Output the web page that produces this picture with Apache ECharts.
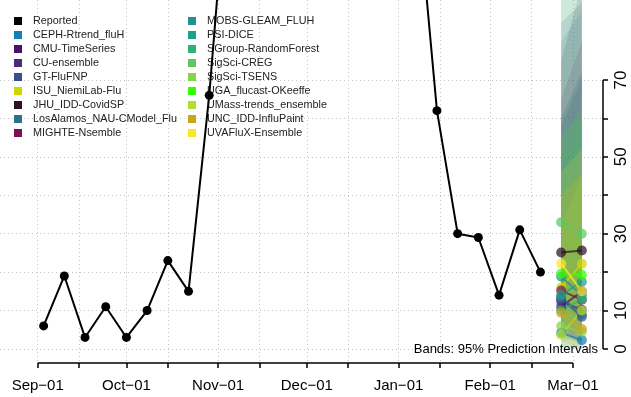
<!DOCTYPE html>
<html>
<head>
<meta charset="utf-8">
<script src="https://cdn.jsdelivr.net/npm/echarts@6/dist/echarts.min.js"></script>
<style>
  html, body { margin: 0; padding: 0; background: #fff; }
  #chart { width: 631px; height: 397px; }
</style>
</head>
<body>
<div id="chart"></div>
<script>
// weekly reported counts
const reportedDates = ['2022-09-03', '2022-09-10', '2022-09-17', '2022-09-24', '2022-10-01', '2022-10-08',
  '2022-10-15', '2022-10-22', '2022-10-29', '2022-11-05', '2022-11-12', '2022-11-19', '2022-11-26',
  '2022-12-03', '2022-12-10', '2022-12-17', '2022-12-24', '2022-12-31', '2023-01-07', '2023-01-14',
  '2023-01-21', '2023-01-28', '2023-02-04', '2023-02-11', '2023-02-18'];
const reportedValues = [6, 19, 3, 11, 3, 10, 23, 15, 66, 132, 175, 210, 238, 226, 201, 184, 166, 148, 121, 62,
  30, 29, 14, 31, 20];

// forecasts, two horizons
const forecastDates = ['2023-02-25', '2023-03-04'];
const models = ['CEPH-Rtrend_fluH', 'CMU-TimeSeries', 'CU-ensemble', 'GT-FluFNP', 'ISU_NiemiLab-Flu',
  'JHU_IDD-CovidSP', 'LosAlamos_NAU-CModel_Flu', 'MIGHTE-Nsemble', 'MOBS-GLEAM_FLUH', 'PSI-DICE',
  'SGroup-RandomForest', 'SigSci-CREG', 'SigSci-TSENS', 'UGA_flucast-OKeeffe', 'UMass-trends_ensemble',
  'UNC_IDD-InfluPaint', 'UVAFluX-Ensemble'];
const modelColors = ['#1380B8', '#4B1068', '#482A7A', '#3E4C8A', '#D0D600', '#2D1225', '#2C6F8E', '#7A1057',
  '#21918C', '#1FA187', '#2EB37C', '#5DC863', '#86D549', '#33FF00', '#B4DE2C', '#C9A61F', '#FDE725'];
const medianValues = [[4.2, 2.3], [11, 15], [12.4, 10.2], [13, 8.4], [16, 22.2], [25.1, 25.6], [13.5, 9],
  [15.2, 12.8], [18.8, 14], [14, 17.5], [10, 13], [33, 30], [6, 4.5], [19.6, 19.3], [3.7, 10], [9.4, 5.2],
  [22.2, 15]];
const lowerValues = [[0, 0], [3, 2], [4, 2], [5, 1], [4, 5], [10, 8], [5, 1], [6, 3], [8, 4], [5, 6], [2, 3],
  [12, 8], [1, 0], [8, 5], [0, 1], [2, 0], [8, 2]];
const upperValues = [[30, 25], [58, 70], [60, 72], [85, 90], [40, 48], [75, 95], [80, 88], [65, 80],
  [95, 130], [60, 72], [50, 58], [110, 125], [40, 45], [55, 62], [32, 45], [40, 46], [46, 52]];

// axis ticks
const xTickDates = ['2022-09-01', '2022-09-15', '2022-10-01', '2022-10-15', '2022-11-01', '2022-11-15',
  '2022-12-01', '2022-12-15', '2023-01-01', '2023-01-15', '2023-02-01', '2023-02-15', '2023-03-01'];
const xLabelDates = ['2022-09-01', '2022-10-01', '2022-11-01', '2022-12-01', '2023-01-01', '2023-02-01',
  '2023-03-01'];
const yTicks = [0, 10, 20, 30, 40, 50, 60, 70];
const yLabels = [0, 10, 30, 50, 70];

const DAY = 864e5;
const t = s => Date.parse(s + 'T00:00:00Z');
const MONTHS = ['Jan', 'Feb', 'Mar', 'Apr', 'May', 'Jun', 'Jul', 'Aug', 'Sep', 'Oct', 'Nov', 'Dec'];
const FONT = "'Liberation Sans', Arial, sans-serif";

const xMin = t(xLabelDates[0]) - 12.75 * DAY;
const xMax = t(xLabelDates[xLabelDates.length - 1]) + 10.15 * DAY;
const yMin = -3.65, yMax = 90.8;

function rgba(hex, a) {
  const n = parseInt(hex.slice(1), 16);
  return `rgba(${n >> 16},${(n >> 8) & 255},${n & 255},${a})`;
}

const chart = echarts.init(document.getElementById('chart'), null, { renderer: 'canvas' });

const f1 = t(forecastDates[0]), f2 = t(forecastDates[1]);

const bandSeries = {
  type: 'custom',
  z: 2,
  silent: true,
  data: models.map((m, i) => [i, f1, lowerValues[i][0], upperValues[i][0], f2, lowerValues[i][1], upperValues[i][1]]),
  encode: { x: [1, 4], y: [2, 3, 5, 6] },
  renderItem: (params, api) => {
    const i = api.value(0);
    const pts = [
      api.coord([api.value(1), api.value(2)]),
      api.coord([api.value(4), api.value(5)]),
      api.coord([api.value(4), api.value(6)]),
      api.coord([api.value(1), api.value(3)])
    ];
    return { type: 'polygon', shape: { points: pts }, style: { fill: rgba(modelColors[i], 0.14) } };
  }
};

const modelSeries = models.map((m, i) => ({
  name: m,
  type: 'line',
  z: 3,
  data: [[f1, medianValues[i][0]], [f2, medianValues[i][1]]],
  symbol: 'circle',
  symbolSize: 10,
  itemStyle: { color: rgba(modelColors[i], 0.72) },
  lineStyle: { color: rgba(modelColors[i], 0.72), width: 2 }
}));

const reportedSeries = {
  name: 'Reported',
  type: 'line',
  z: 4,
  clip: false,
  data: reportedDates.map((d, i) => [t(d), reportedValues[i]]),
  symbol: 'circle',
  symbolSize: 9,
  itemStyle: { color: '#000' },
  lineStyle: { color: '#000', width: 2 },
  markLine: {
    silent: true,
    symbol: 'none',
    label: { show: false },
    lineStyle: { color: '#000', width: 1.5, type: 'solid' },
    data: [
      [{ coord: [t(xLabelDates[0]), yMin] }, { coord: [t(xLabelDates[xLabelDates.length - 1]), yMin] }],
      [{ coord: [xMax, yTicks[0]] }, { coord: [xMax, yTicks[yTicks.length - 1]] }]
    ]
  }
};

const legendNames = ['Reported'].concat(models);
const legendColors = ['#000'].concat(modelColors);
const legendBase = {
  orient: 'vertical',
  top: 15.5,
  padding: 0,
  itemGap: 3,
  itemWidth: 20,
  itemHeight: 8,
  icon: 'path://M0,0h10v10h-10z',
  selectedMode: false,
  z: 1,
  textStyle: { fontSize: 10.8, lineHeight: 10, color: '#222', fontFamily: FONT }
};
const legendItems = legendNames.map((n, i) => ({ name: n, itemStyle: { color: legendColors[i], opacity: 1 } }));

const dotted = { show: true, lineStyle: { color: '#c4c4c4', width: 1, type: [1, 3] } };

const option = {
  animation: false,
  backgroundColor: '#fff',
  textStyle: { fontFamily: FONT },
  grid: { left: 0, right: 28, top: 0, bottom: 34 },
  legend: [
    Object.assign({}, legendBase, { left: 14, data: legendItems.slice(0, 9) }),
    Object.assign({}, legendBase, { left: 188, data: legendItems.slice(9) })
  ],
  xAxis: {
    type: 'value',
    min: xMin,
    max: xMax,
    axisLine: { show: false, onZero: false },
    axisTick: {
      customValues: xTickDates.map(t),
      length: 5,
      lineStyle: { color: '#000', width: 1.5 }
    },
    axisLabel: {
      customValues: xLabelDates.map(t),
      margin: 15,
      fontSize: 15,
      color: '#000',
      fontFamily: FONT,
      formatter: v => {
        const d = new Date(v);
        return MONTHS[d.getUTCMonth()] + '\u2212' + String(d.getUTCDate()).padStart(2, '0');
      }
    },
    splitLine: dotted
  },
  yAxis: {
    type: 'value',
    position: 'right',
    min: yMin,
    max: yMax,
    axisLine: { show: false, onZero: false },
    axisTick: {
      customValues: yTicks,
      length: 5,
      lineStyle: { color: '#000', width: 1.5 }
    },
    axisLabel: {
      customValues: yLabels,
      rotate: 90,
      margin: 10,
      fontSize: 17,
      color: '#000',
      fontFamily: FONT
    },
    splitLine: dotted
  },
  graphic: [{
    type: 'text',
    right: 33,
    top: 343,
    z: 10,
    style: { text: 'Bands: 95% Prediction Intervals', font: '13px ' + FONT, fill: '#000' }
  }],
  series: [bandSeries].concat(modelSeries, [reportedSeries])
};

chart.setOption(option);
</script>
</body>
</html>
